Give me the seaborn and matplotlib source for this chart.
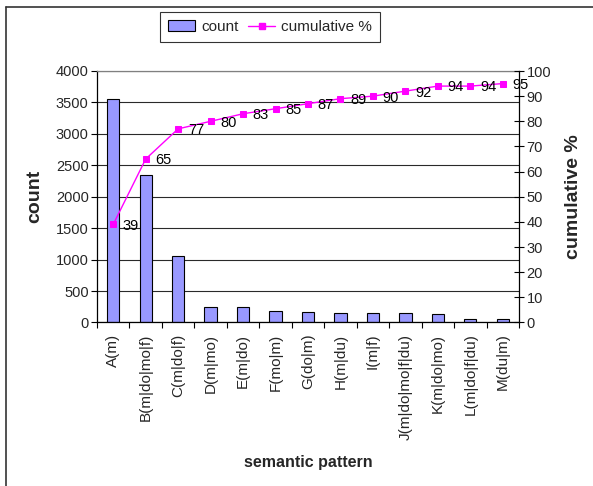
import numpy as np
import pandas as pd
import matplotlib
matplotlib.use("Agg")
import matplotlib.pyplot as plt
from matplotlib.lines import Line2D
from matplotlib.patches import Patch
import seaborn as sns

patterns = ["A(m)", "B(m|do|mo|f)", "C(m|do|f)", "D(m|mo)", "E(m|do)", "F(mo|m)",
            "G(do|m)", "H(m|du)", "I(m|f)", "J(m|do|mo|f|du)", "K(m|do|mo)",
            "L(m|do|f|du)", "M(du|m)"]
counts = [3550, 2350, 1050, 250, 250, 190, 165, 150, 150, 150, 128, 60, 60]
cumulative = [39, 65, 77, 80, 83, 85, 87, 89, 90, 92, 94, 94, 95]

sns.set_theme(style="white")
plt.rcParams["font.family"] = ["Liberation Sans", "DejaVu Sans"]

df = pd.DataFrame({"pattern": patterns, "count": counts, "cum": cumulative})

fig = plt.figure(figsize=(5.93, 4.86), dpi=100)
ax = fig.add_axes([97 / 593, 1 - 322.5 / 486, (519 - 97) / 593, (322.5 - 71) / 486])

sns.barplot(data=df, x="pattern", y="count", ax=ax, color="#9999FF",
            edgecolor="black", linewidth=0.8, width=0.38, saturation=1)
ax.set_xlim(-0.5, len(patterns) - 0.5)
ax.set_ylim(0, 4000)
ax.set_yticks(np.arange(0, 4001, 500))
ax.yaxis.grid(True, color="#2a2a2a", linewidth=0.8)
ax.set_axisbelow(True)

# category ticks sit on the boundaries between bars
ax.set_xticks(np.arange(len(patterns)))
ax.set_xticklabels(patterns, rotation=90, fontsize=11)
ax.set_xticks(np.arange(-0.5, len(patterns)), minor=True)
ax.tick_params(axis="x", which="major", length=0, pad=8)
ax.tick_params(axis="x", which="minor", length=4, width=0.8, direction="out",
               color="black", bottom=True)
ax.tick_params(axis="y", which="major", length=4, width=0.8, direction="out",
               color="black", left=True, labelsize=10.5, pad=2)
ax.set_xlabel("semantic pattern", fontsize=11.5, fontweight="bold", va="center")
ax.xaxis.set_label_coords(0.5, -0.555)
ax.set_ylabel("count", fontsize=14, fontweight="bold", va="center")
ax.yaxis.set_label_coords(-0.147, 0.5)

for side in ["left", "bottom"]:
    ax.spines[side].set_color("black")
    ax.spines[side].set_linewidth(0.9)
ax.spines["top"].set_color("#808080")
ax.spines["top"].set_linewidth(0.9)
ax.spines["right"].set_visible(False)

ax2 = ax.twinx()
sns.lineplot(x=np.arange(len(patterns)), y=cumulative, ax=ax2, color="#FF00FF",
             linewidth=1.0, marker="s", markersize=5, markeredgecolor="#FF00FF")
ax2.set_ylim(0, 100)
ax2.set_yticks(np.arange(0, 101, 10))
ax2.tick_params(axis="y", which="major", length=7, width=0.8, direction="inout",
                color="black", right=True, labelsize=10.5, pad=2)
ax2.set_ylabel("cumulative %", fontsize=14, fontweight="bold", va="center",
               rotation=90)
ax2.yaxis.set_label_coords(1.128, 0.5)
for side in ["left", "top", "bottom"]:
    ax2.spines[side].set_visible(False)
ax2.spines["right"].set_color("black")
ax2.spines["right"].set_linewidth(0.9)

for i, v in enumerate(cumulative):
    ax2.annotate(f"{v}", (i, v), xytext=(7, -1), textcoords="offset points",
                 ha="left", va="center", fontsize=10.5, color="black")

handles = [Patch(facecolor="#9999FF", edgecolor="black", linewidth=0.8),
           Line2D([0], [0], color="#FF00FF", marker="s", markersize=5, linewidth=1.0)]
leg = fig.legend(handles, ["count", "cumulative %"], loc="center",
                 bbox_to_anchor=(270 / 593, 1 - 27 / 486), ncol=2, frameon=True,
                 fontsize=11, fancybox=False, edgecolor="black", handlelength=1.8,
                 columnspacing=0.6, handletextpad=0.4, borderpad=0.5)
leg.get_frame().set_linewidth(0.8)

# outer chart frame (left and top edges)
fig.add_artist(Line2D([5.5 / 593, 5.5 / 593], [0, 1 - 7.5 / 486], color="#333333",
                      linewidth=1.2, transform=fig.transFigure))
fig.add_artist(Line2D([5.5 / 593, 1], [1 - 7.5 / 486, 1 - 7.5 / 486], color="#333333",
                      linewidth=1.2, transform=fig.transFigure))

fig.savefig("out.png", dpi=100)
